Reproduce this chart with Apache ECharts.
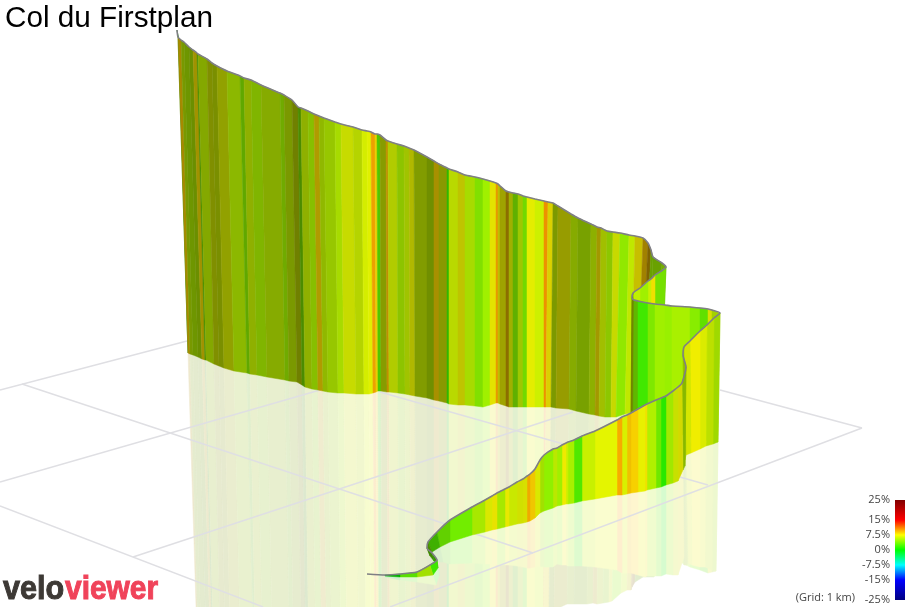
<!DOCTYPE html>
<html>
<head>
<meta charset="utf-8">
<title>Col du Firstplan</title>
<style>
    html, body { margin: 0; padding: 0; background: #fff; }
    #main { width: 907px; height: 607px; }
</style>
<script src="https://cdn.jsdelivr.net/npm/echarts@6/dist/echarts.min.js"></script>
</head>
<body>
<div id="main"></div>
<script>
// 墙面顶点 (从路线终点到起点, 远 -> 近), 单位是投影后的平面坐标
var wallTopX = [177,178,181,184,189,193,197,198,207,212,217,227,240,244,251,261,280,284,292,298,301,308,314,319,324,335,341,353,362,367,371,375,377,380,386,388,397,404,409,414,427,434,439,447,449,458,465,475,483,490,496,498,500,506,509,513,518,523,527,535,544,548,553,558,571,578,591,597,601,607,613,620,629,635,643,648,651,653,662,
    666,655,651,648,640,633,
    632,634,638,648,655,665,672,690,700,708,712,
    720,714,707,700,690,684,683,686,682,678,673,666,661,656,647,645,638,631,627,622,617,595,582,574,568,566,562,557,553,544,540,535,530,527,523,517,509,505,497,492,485,472,450,437,428,427,432,437,430,417,400,385,367];
var wallTopY = [30,37,40,42,47,50,53,54,59,63,66,71,76,78,80,85,93,95,100,107,108,111,114,116,118,122,124,127,130,131,132,134,134,135,140,141,144,146,148,150,157,161,164,168,169,172,175,177,179,181,183,184,186,191,192,193,194,196,197,199,201,202,203,206,214,218,224,227,228,231,232,233,235,236,238,243,250,257,263,
    267,275,279,281,288,293,
    298,300,301,303,304,305,306,307,308,309,310,
    313,318,325,331,341,347,355,367,383,387,391,396,398,400,404,405,409,413,415,417,420,431,436,440,442,443,445,448,449,455,460,469,474,476,479,482,487,489,493,496,500,507,520,532,542,548,553,560,565,572,574,575,574];
var wallBaseX = [179,188,190,193,198,202,205,206,214,219,224,234,247,250,257,267,285,289,297,302,305,312,318,323,328,338,344,356,364,369,373,376,378,381,387,389,398,405,410,415,427,434,439,447,449,458,465,475,483,490,496,498,500,506,509,513,518,523,527,535,544,546,551,556,569,576,589,595,599,605,611,616,625,631,637,640,643,648,655,
    660,655,651,648,640,634,
    631,633,638,648,655,665,672,690,700,708,712,
    718,713,706,700,691,686,685,685,683,678,673,666,661,656,647,645,638,631,627,622,617,595,582,574,568,566,562,557,553,544,540,535,530,527,523,517,509,505,497,492,485,472,450,440,432,430,434,438,433,417,400,385,367];
var wallBaseY = [40,353,354,355,357,359,360,360,364,366,368,371,373,374,375,377,380,381,382,385,387,389,390,391,392,393,393,394,394,394,393,392,391,391,392,392,393,394,395,396,398,400,401,403,404,405,405,406,407,405,403,403,404,406,407,407,407,407,407,407,407,407,407,408,409,411,414,415,416,417,417,417,414,413,414,415,416,417,420,
    422,420,419,418,417,416,
    420,421,422,425,427,430,432,437,439,441,441,
    442,444,446,449,453,455,460,466,470,481,483,485,487,488,490,491,492,493,494,495,495,499,501,503,504,504,505,506,508,511,513,518,521,522,523,524,526,527,529,530,532,535,542,547,552,556,561,568,575,577,577,576,576];

// 每段的坡度(%)和受光系数, 比顶点少一个
var stripeGrade = [1,8.9,5.9,5.5,5.6,8.2,3.4,5.9,6.7,6.4,6.8,5.7,4.3,6.1,5.3,5.9,4.9,6,6.6,4,6.1,5.3,8.4,5.9,5.7,5.7,6.8,6.4,6.7,7,9.9,8.3,3,6.5,9.4,6.5,5.4,6.1,7.2,6.2,5.9,8.6,6.7,2,6.4,7.3,5.7,4.3,5,7.5,10.1,7.5,7.3,9.1,6.8,4.1,6,3.9,7.2,6.4,10.4,7.9,6.1,7.3,5.9,5.6,6,8,6.3,5.3,6.9,4.7,6.2,7.8,9,9.2,4.9,4.9,5,
    3.9,8,6.3,5,6,5,
    6.2,3.9,2.1,4.1,5,4.8,5.3,4.3,3.2,7.2,5.8,
    5.5,6.3,7,7.6,7,6,5.8,5.5,7.3,6.7,5.2,1.3,3.6,5.5,8,7.25,8.7,9,6.75,9.8,7,6.25,2.6,5.25,6.25,7.7,5,6,4.5,5.4,7,8.8,9.7,7.2,7,6.5,7.5,5.4,7.7,7,5.4,3.6,3.5,2.7,4,3.4,2.6,2,5.4,3,0];
var stripeLight = [.55,.66,.6,.59,.56,.63,.54,.66,.56,.56,.63,.72,.66,.69,.71,.67,.67,.6,.5,.55,.69,.75,.69,.72,.78,.86,.86,.83,.93,.94,.93,.91,.78,.61,.75,.8,.77,.77,.72,.61,.56,.66,.6,.72,.85,.77,.86,.88,.94,.89,.91,.75,.64,.55,.69,.69,.78,.85,.93,.94,.93,.86,.6,.61,.67,.63,.69,.64,.75,.78,.85,.91,.91,.78,.63,.5,.63,.63,.68,
    .88,.94,.94,.94,.94,.5,
    .53,.72,.91,.91,.94,.94,.94,.93,.88,.88,.82,
    .85,.88,.92,.94,.9,.82,.75,.72,.85,.88,.91,.91,.91,.94,.94,.94,.97,.94,.94,.97,.96,.94,.91,.94,.94,.94,.94,.91,.94,.88,.91,.94,.94,.88,.88,.91,.91,.91,.91,.91,.91,.93,.82,.69,.55,.54,.6,.91,.88,.88,.7];

// 地面网格线
var groundFromX = [0,22,0,0,133,390,380,720];
var groundFromY = [390,384,506,482,557,607,392,390];
var groundToX = [187,533,263,320,573,862,708,862];
var groundToY = [341,553,607,390,412,428,485,428];

// 图例
var legendTicks = [25,15,7.5,0,-7.5,-15,-25];
var gradeStops = [-25,-15,-7.5,0,7.5,15,25];
var gradeRed = [0,0,0,0,255,255,128];
var gradeGreen = [0,0,255,255,255,0,0];
var gradeBlue = [128,255,255,0,0,0,0];

// fade: 和白色混合的比例, 倒影用
function gradeColor(grade, light, fade) {
    var i = 0;
    while (i < gradeStops.length - 2 && grade > gradeStops[i + 1]) i++;
    var t = (grade - gradeStops[i]) / (gradeStops[i + 1] - gradeStops[i]);
    var mix = function (arr) {
        var v = (arr[i] + (arr[i + 1] - arr[i]) * t) * light;
        return Math.round(v + (255 - v) * fade);
    };
    return 'rgb(' + mix(gradeRed) + ',' + mix(gradeGreen) + ',' + mix(gradeBlue) + ')';
}

var chart = echarts.init(document.getElementById('main'), null, { renderer: 'canvas' });

var stripeRows = [];
var topLine = [];
for (var n = 0; n < wallTopX.length; n++) {
    topLine.push([wallTopX[n], wallTopY[n]]);
    if (n < stripeGrade.length) {
        stripeRows.push([
            wallTopX[n], wallTopY[n], wallBaseX[n], wallBaseY[n],
            wallTopX[n + 1], wallTopY[n + 1], wallBaseX[n + 1], wallBaseY[n + 1],
            stripeGrade[n], stripeLight[n]
        ]);
    }
}
var groundRows = groundFromX.map(function (x, i) {
    return [x, groundFromY[i], groundToX[i], groundToY[i]];
});

// 墙面
function renderWall(params, api) {
    var a = api.coord([api.value(0), api.value(1)]),
        b = api.coord([api.value(2), api.value(3)]),
        c = api.coord([api.value(6), api.value(7)]),
        d = api.coord([api.value(4), api.value(5)]),
        color = gradeColor(api.value(8), api.value(9), 0);
    return {
        type: 'polygon',
        shape: { points: [a, b, c, d] },
        style: { fill: color, stroke: color, lineWidth: 0.5 }
    };
}

// 倒影: 以墙脚为轴镜像
function renderReflection(params, api) {
    var mirror = function (ix, iy, jx, jy) {
        return api.coord([2 * api.value(jx) - api.value(ix), 2 * api.value(jy) - api.value(iy)]);
    };
    var color = gradeColor(api.value(8), api.value(9), 0.81);
    return {
        type: 'polygon',
        shape: {
            points: [
                api.coord([api.value(2), api.value(3)]),
                mirror(0, 1, 2, 3),
                mirror(4, 5, 6, 7),
                api.coord([api.value(6), api.value(7)])
            ]
        },
        style: { fill: color, stroke: color, lineWidth: 0.5 }
    };
}

function renderGround(params, api) {
    var from = api.coord([api.value(0), api.value(1)]),
        to = api.coord([api.value(2), api.value(3)]);
    return {
        type: 'line',
        shape: { x1: from[0], y1: from[1], x2: to[0], y2: to[1] },
        style: { stroke: '#dfdfe3', lineWidth: 1.4 }
    };
}

function renderLegendBar(params, api) {
    var top = api.coord([0, 25]),
        bottom = api.coord([1, -25]);
    var stops = gradeStops.map(function (g) {
        return { offset: (25 - g) / 50, color: gradeColor(g, 1, 0) };
    }).reverse();
    return {
        type: 'rect',
        shape: { x: top[0], y: top[1], width: bottom[0] - top[0], height: bottom[1] - top[1] },
        style: { fill: { type: 'linear', x: 0, y: 0, x2: 0, y2: 1, colorStops: stops } }
    };
}

chart.setOption({
    animation: false,
    backgroundColor: '#fff',
    title: {
        text: 'Col du Firstplan',
        left: 5,
        top: 4,
        padding: 0,
        textStyle: { fontFamily: 'Liberation Sans', fontSize: 29.7, fontWeight: 'normal', color: '#000' }
    },
    grid: [
        { left: 0, right: 0, top: 0, bottom: 0 },
        { left: 895, top: 500, width: 10, height: 100 }
    ],
    xAxis: [
        { type: 'value', min: 0, max: 907, show: false },
        { type: 'value', gridIndex: 1, min: 0, max: 1, show: false }
    ],
    yAxis: [
        { type: 'value', min: 0, max: 607, inverse: true, show: false },
        {
            type: 'value',
            gridIndex: 1,
            min: -25,
            max: 25,
            position: 'left',
            splitLine: { show: false },
            axisLine: { show: false },
            axisTick: { show: false },
            axisLabel: {
                customValues: legendTicks,
                formatter: '{value}%',
                margin: 5,
                color: '#444',
                fontSize: 11,
                fontFamily: 'Open Sans'
            }
        }
    ],
    graphic: [
        {
            type: 'text',
            x: 855,
            y: 598,
            style: { text: '(Grid: 1 km)', align: 'right', verticalAlign: 'middle', fill: '#444', font: '11px "Open Sans"' }
        },
        {
            type: 'text',
            x: 3,
            y: 590,
            scaleX: 0.9,
            style: { text: 'velo', verticalAlign: 'middle', fill: '#3d3935', stroke: '#3d3935', lineWidth: 1, font: 'bold 34px "Liberation Sans"' }
        },
        {
            type: 'text',
            x: 65,
            y: 590,
            scaleX: 0.88,
            style: { text: 'viewer', verticalAlign: 'middle', fill: '#f0435a', stroke: '#f0435a', lineWidth: 1, font: 'bold 34px "Liberation Sans"' }
        }
    ],
    series: [
        { type: 'custom', coordinateSystem: 'cartesian2d', renderItem: renderReflection, data: stripeRows.slice(1), z: 1, silent: true },
        { type: 'custom', coordinateSystem: 'cartesian2d', renderItem: renderGround, data: groundRows, z: 2, silent: true },
        { type: 'custom', coordinateSystem: 'cartesian2d', renderItem: renderWall, data: stripeRows, z: 3, silent: true },
        {
            type: 'line',
            data: topLine,
            showSymbol: false,
            smooth: 0.2,
            z: 4,
            silent: true,
            lineStyle: { color: '#7f7f85', width: 1.6 }
        },
        {
            type: 'custom',
            xAxisIndex: 1,
            yAxisIndex: 1,
            coordinateSystem: 'cartesian2d',
            renderItem: renderLegendBar,
            data: [[0, 0]],
            silent: true
        }
    ]
});
</script>
</body>
</html>
